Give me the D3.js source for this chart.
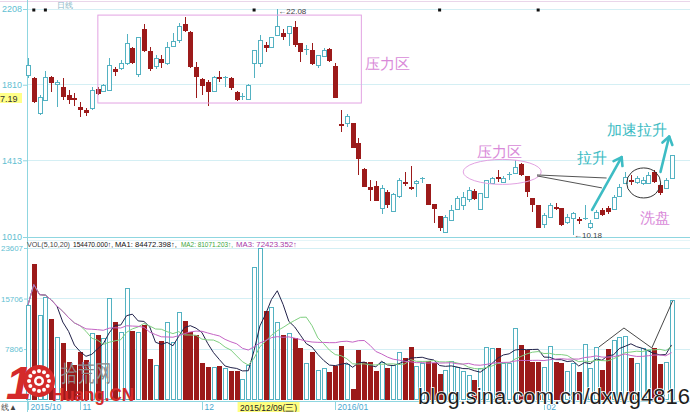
<!DOCTYPE html>
<html><head><meta charset="utf-8">
<script src="https://cdn.jsdelivr.net/npm/d3@7"></script>
<style>body{margin:0;background:#fff}svg{display:block}text{font-family:"Liberation Sans","DejaVu Sans",sans-serif}</style>
</head><body><svg id="c" width="690" height="412"></svg>
<script>
// ---------- DATA ----------
const opens = [18.61,18.45,16.62,17.30,18.51,18.14,17.98,17.56,17.40,16.93,16.77,16.88,17.88,17.77,17.82,18.93,18.98,19.24,20.03,18.66,
21.03,19.87,19.08,19.45,19.24,20.14,20.45,21.29,20.87,19.03,18.40,18.24,17.77,18.51,18.45,18.45,17.72,17.46,17.35,19.24,
19.24,20.19,20.08,20.71,20.82,20.82,21.13,20.29,19.93,19.93,19.14,19.61,19.98,19.08,16.04,16.09,16.09,15.04,13.67,12.73,
12.78,11.62,12.46,11.47,12.25,12.99,12.73,12.94,13.15,12.88,11.83,11.20,10.36,10.99,11.57,11.78,12.10,12.52,11.57,12.20,
12.94,13.25,12.99,13.36,13.46,13.94,13.30,12.15,11.78,10.78,11.15,11.68,11.62,10.89,11.10,11.04,11.04,10.62,11.10,11.52,
11.62,11.57,12.25,12.94,13.09,12.99,12.94,12.94,13.51,12.83,12.67,13.20];
const highs = [19.50,18.51,17.56,18.82,18.56,18.35,18.45,17.82,17.67,17.19,16.88,17.98,17.98,18.14,19.50,19.03,19.40,20.77,20.08,20.61,
21.29,20.08,19.66,19.66,20.35,20.82,21.34,21.66,20.92,19.30,18.45,18.35,18.56,18.82,18.56,18.51,17.77,17.67,18.14,19.93,
20.71,20.35,20.61,22.08,21.03,21.19,21.45,20.29,20.19,20.29,19.66,20.03,20.03,19.24,16.77,16.56,16.09,15.30,13.73,13.09,
13.04,12.83,12.57,12.41,13.20,13.51,13.83,13.09,13.25,12.88,11.83,11.20,11.25,11.78,12.25,12.46,12.73,12.62,12.41,13.09,
13.25,13.62,13.30,13.51,14.15,13.99,13.30,12.15,11.78,11.36,11.89,11.89,11.62,11.31,11.41,11.15,11.78,10.99,11.52,11.62,
11.73,12.31,12.88,13.51,13.36,13.30,13.25,13.51,13.62,12.94,13.20,14.41];
const lows = [18.45,17.14,16.51,17.25,17.72,16.93,17.30,17.09,16.98,16.40,16.46,16.77,17.56,17.72,17.77,18.56,18.87,19.14,19.19,18.51,
19.82,18.82,18.93,18.98,19.14,20.14,20.29,20.87,18.98,17.40,17.56,16.98,17.72,18.24,17.98,17.82,17.25,17.30,17.30,18.45,
19.03,19.82,20.08,20.66,20.45,20.14,20.08,19.30,19.66,19.14,18.98,19.56,19.30,17.40,15.62,15.88,14.78,13.36,12.73,11.99,
11.99,11.31,11.62,11.47,12.15,12.78,12.57,12.20,12.94,11.78,10.83,10.41,10.31,10.94,11.52,11.52,11.94,12.04,11.52,12.15,
12.94,12.99,12.94,13.09,13.46,13.30,12.20,11.41,10.57,10.57,11.10,11.52,10.68,10.78,10.18,10.78,10.99,10.52,11.04,11.20,
11.31,11.52,12.20,12.88,12.83,12.88,12.83,12.88,12.94,12.31,12.62,13.20];
const closes = [19.14,17.19,17.46,18.51,18.19,18.24,17.46,17.30,17.30,16.77,16.62,17.82,17.61,18.09,19.14,18.77,19.24,20.29,19.24,20.61,
19.87,18.93,19.50,19.24,20.08,20.40,21.19,20.92,19.03,18.51,18.03,17.72,18.51,18.40,18.51,17.93,17.30,17.51,18.09,19.93,
20.45,20.03,20.61,21.19,20.61,21.19,20.19,19.82,19.98,19.19,19.66,19.93,19.35,17.40,15.93,16.46,14.78,14.20,12.73,12.57,
11.99,12.67,11.78,12.36,13.09,12.94,12.62,13.04,13.20,11.78,11.57,10.57,11.15,11.52,12.15,12.20,12.57,12.10,12.41,13.09,
13.20,13.20,13.20,13.41,13.78,13.36,12.46,11.78,10.57,11.25,11.78,11.57,10.73,11.15,11.36,10.94,11.10,10.83,11.41,11.25,
11.41,12.20,12.73,13.25,13.04,13.20,13.09,13.36,12.99,12.41,13.09,14.41];
const volumes = [14710,21080,13150,16010,12520,9750,8720,5840,5320,7400,6100,10280,10020,9500,15760,12000,10530,17320,10690,10500,
11580,6260,5320,9080,12000,8970,13570,12250,10530,10020,5590,5060,5060,5170,4900,4380,4380,3130,5320,20700,
23590,13770,14450,12100,10020,10280,9500,7930,5590,7300,4540,4800,4280,5170,8350,5430,1570,7670,5840,5740,
4380,5840,4800,5320,7300,6370,8190,5170,5590,5950,5590,3860,4540,5950,5060,4380,3760,2970,4800,8190,
7930,7930,5590,5680,11160,8450,7670,5740,5840,5060,8300,5840,5680,4380,5590,4280,8560,4800,8090,4540,
7830,9230,9750,9860,6460,5590,7930,7670,7930,5430,5740,15490];
const priceTicks = [22.08, 18.10, 14.13, 10.10];
const priceTickLabels = ["2208", "1810", "1413", "1010"];
const volTicks = [23607, 15706, 7806];
const volTickLabels = ["23607", "15706", "7806"];
const dateIdx = [0, 9, 30, 53, 89];
const dateText = ["2015/10", "11", "12", "2016/01", "02"];
const markerIdx = [1, 3, 39, 71, 88];
const maPeriods = [5, 10, 20];

// ---------- SCALES ----------
const svg = d3.select("#c");
const N = closes.length;
const xs = d3.scaleLinear().domain([0, N - 1]).range([28, 671.5]);
const ys = d3.scaleLinear().domain([10.10, 22.08]).range([237, 9]);
const yv = d3.scaleLinear().domain([0, 23607]).range([399, 248]);
const UP = "#54b2c2", DN = "#9c1a1a", GRID = "#d4eff4", AX = "#8fd6e0", LBL = "#62c0d2";

// frame / grid
svg.append("line").attr("x1",0).attr("x2",690).attr("y1",1.5).attr("y2",1.5).attr("stroke","#ead6ea");
const grid = svg.append("g").attr("shape-rendering","crispEdges");
priceTicks.forEach((p,k)=>grid.append("line").attr("x1",27).attr("x2",690).attr("y1",ys(p)).attr("y2",ys(p))
  .attr("stroke", k===3 ? AX : GRID));
volTicks.forEach(v=>grid.append("line").attr("x1",27).attr("x2",690).attr("y1",yv(v)).attr("y2",yv(v)).attr("stroke",GRID));
grid.append("line").attr("x1",27).attr("x2",690).attr("y1",240).attr("y2",240).attr("stroke","#e4f5f8");
grid.append("line").attr("x1",0).attr("x2",690).attr("y1",401.5).attr("y2",401.5).attr("stroke",AX);
grid.append("line").attr("x1",27.5).attr("x2",27.5).attr("y1",0).attr("y2",412).attr("stroke",AX);

// axes
const pa = svg.append("g").attr("transform","translate(27,0)")
  .call(d3.axisLeft(ys).tickValues(priceTicks).tickFormat((d,i)=>priceTickLabels[i]).tickSize(4).tickPadding(1));
const va = svg.append("g").attr("transform","translate(27,0)")
  .call(d3.axisLeft(yv).tickValues(volTicks).tickFormat((d,i)=>volTickLabels[i]).tickSize(3).tickPadding(1));
[pa,va].forEach(g=>{
  g.select(".domain").remove();
  g.selectAll("line").attr("stroke",AX);
  g.selectAll("text").attr("fill",LBL).attr("font-size",9).attr("font-family","Liberation Sans, sans-serif");
});
va.selectAll("text").attr("font-size",8).attr("textLength",d=>d>10000?22:18).attr("lengthAdjust","spacingAndGlyphs");

// current price tag
svg.append("rect").attr("x",0).attr("y",93).attr("width",22).attr("height",10).attr("fill","#ffff88");
svg.append("text").attr("x",0).attr("y",101.5).attr("font-size",9).attr("fill","#333").text("7.19");

// top label + markers
svg.append("text").attr("x",57).attr("y",8).attr("font-size",8).attr("fill","#8ab8c6")
  .attr("font-family","Noto Sans CJK SC").text("日线");
svg.selectAll(".mk").data(markerIdx).enter().append("rect")
  .attr("x",d=>xs(d)-1.5).attr("y",8.5).attr("width",3).attr("height",3).attr("fill","#111");

// ---------- CANDLES ----------
const cg = svg.append("g").attr("shape-rendering","crispEdges");
d3.range(N).forEach(i=>{
  const up = closes[i] >= opens[i];
  const cx = Math.round(xs(i)) + 0.5;
  const top = ys(Math.max(opens[i], closes[i])), bot = ys(Math.min(opens[i], closes[i]));
  const col = up ? UP : DN;
  if (up) {
    cg.append("line").attr("x1",cx).attr("x2",cx).attr("y1",ys(highs[i])).attr("y2",top).attr("stroke",col);
    cg.append("line").attr("x1",cx).attr("x2",cx).attr("y1",bot).attr("y2",ys(lows[i])).attr("stroke",col);
    if (bot - top < 1.5) {
      cg.append("line").attr("x1",cx-2.5).attr("x2",cx+2.5).attr("y1",Math.round(top)+0.5).attr("y2",Math.round(top)+0.5).attr("stroke",col);
    } else {
      cg.append("rect").attr("x",cx-2).attr("y",Math.round(top)+0.5).attr("width",4).attr("height",Math.max(1,Math.round(bot-top)))
        .attr("fill","#fff").attr("stroke",col);
    }
  } else {
    cg.append("line").attr("x1",cx).attr("x2",cx).attr("y1",ys(highs[i])).attr("y2",ys(lows[i])).attr("stroke",col);
    cg.append("rect").attr("x",cx-2.5).attr("y",Math.round(top)).attr("width",5).attr("height",Math.max(1.5,Math.round(bot-top)))
      .attr("fill",col);
  }
});

// ---------- VOLUME ----------
const vg = svg.append("g").attr("shape-rendering","crispEdges");
d3.range(N).forEach(i=>{
  const up = closes[i] >= opens[i];
  const cx = Math.round(xs(i)) + 0.5;
  if (up) vg.append("rect").attr("x",cx-2).attr("y",Math.round(yv(volumes[i]))+0.5).attr("width",4)
      .attr("height",yv(0)-Math.round(yv(volumes[i]))).attr("fill","#fff").attr("stroke",UP);
  else vg.append("rect").attr("x",cx-2.5).attr("y",Math.round(yv(volumes[i]))).attr("width",5)
      .attr("height",yv(0)-Math.round(yv(volumes[i]))+1).attr("fill",DN);
});
const maColors = ["#22224a", "#7fcf80", "#c564c5"];
const lineGen = d3.line().x((d,i)=>xs(i)).y(d=>yv(d));
maPeriods.forEach((n,k)=>{
  const ma = volumes.map((v,i)=>d3.mean(volumes.slice(Math.max(0,i-n+1), i+1)));
  svg.append("path").datum(ma).attr("d",lineGen).attr("fill","none").attr("stroke",maColors[k]).attr("stroke-width",1);
});
// author's hand-drawn volume line
const volLine = [[98.5,8140],[102.8,11100],[107.6,7980],[111.2,15340]];
svg.append("path").datum(volLine).attr("d",d3.line().x(d=>xs(d[0])).y(d=>yv(d[1])))
  .attr("fill","none").attr("stroke","#333").attr("stroke-width",0.9);

// volume legend
const legend = [
  {t:"VOL(5,10,20)", x:27, w:43, c:"#444"},
  {t:"154470.000↑,", x:73, w:40, c:"#111"},
  {t:"MA1: 84472.398↑,", x:115, w:62, c:"#111"},
  {t:"MA2: 81071.203↑,", x:181, w:52, c:"#3aa63a"},
  {t:"MA3: 72423.352↑", x:236, w:61, c:"#a83aa8"}];
legend.forEach(l=>svg.append("text").attr("x",l.x).attr("y",247).attr("font-size",7.5)
  .attr("font-family","Liberation Mono, monospace").attr("fill",l.c)
  .attr("textLength",l.w).attr("lengthAdjust","spacingAndGlyphs").text(l.t));

// date axis
dateIdx.forEach((d,k)=>{
  const x = Math.round(xs(d)) + 0.5;
  svg.append("line").attr("x1",x).attr("x2",x).attr("y1",402).attr("y2",410).attr("stroke",AX);
  svg.append("text").attr("x",x+2).attr("y",410).attr("font-size",8.5).attr("fill","#4aa8d0").text(dateText[k]);
});
svg.append("rect").attr("x",xs(41.5)-31).attr("y",402).attr("width",62).attr("height",10).attr("fill","#ffff80");
svg.append("text").attr("x",xs(41.5)).attr("y",410.5).attr("text-anchor","middle").attr("font-size",8.5)
  .attr("fill","#222").attr("font-family","Noto Sans CJK SC").text("2015/12/09(三)");
svg.append("text").attr("x",1).attr("y",410).attr("font-size",8).attr("fill","#444")
  .attr("font-family","Noto Sans CJK SC").text("线▲");

// price extremes labels
svg.append("text").attr("x",xs(43)+1).attr("y",ys(22.08)+5).attr("font-size",8).attr("fill","#444").text("←22.08");
svg.append("text").attr("x",xs(94)+1).attr("y",ys(10.18)+3).attr("font-size",8).attr("fill","#444").text("←10.18");

// ---------- ANNOTATIONS ----------
const CJK = "Noto Sans CJK SC";
const PINK = "#e2a2e2", PINKT = "#d98ad9", TEAL = "#3dbcc4";
svg.append("rect").attr("x",xs(12.05)).attr("y",ys(21.76)).attr("width",xs(57.5)-xs(12.05))
  .attr("height",ys(17.14)-ys(21.76)).attr("fill","none").attr("stroke",PINK);
svg.append("text").attr("x",xs(58.2)).attr("y",ys(18.93)).attr("font-size",14.5).attr("fill",PINKT)
  .attr("font-family",CJK).text("压力区");
svg.append("ellipse").attr("cx",xs(81.8)).attr("cy",ys(13.52)).attr("rx",39).attr("ry",12.5)
  .attr("fill","none").attr("stroke",PINK);
svg.append("text").attr("x",xs(77.5)).attr("y",ys(14.28)).attr("font-size",14.5).attr("fill",PINKT)
  .attr("font-family",CJK).text("压力区");
[[87.8,13.36,99.8,13.20],[87.8,13.31,99.0,12.68]].forEach(s=>svg.append("line")
  .attr("x1",xs(s[0])).attr("y1",ys(s[1])).attr("x2",xs(s[2])).attr("y2",ys(s[3])).attr("stroke","#555"));
function arrow(i1,p1,i2,p2){
  const x1=xs(i1),y1=ys(p1),x2=xs(i2),y2=ys(p2);
  svg.append("line").attr("x1",x1).attr("y1",y1).attr("x2",x2).attr("y2",y2)
    .attr("stroke",TEAL).attr("stroke-width",2.6).attr("stroke-linecap","round");
  const a=Math.atan2(y2-y1,x2-x1), L=9;
  const h=[[x2-L*Math.cos(a-0.6),y2-L*Math.sin(a-0.6)],[x2,y2],[x2-L*Math.cos(a+0.6),y2-L*Math.sin(a+0.6)]];
  svg.append("path").attr("d",d3.line()(h)).attr("fill","none").attr("stroke",TEAL)
    .attr("stroke-width",2.6).attr("stroke-linecap","round").attr("stroke-linejoin","round");
}
arrow(97.3,11.52,102.4,14.30);
arrow(109.1,13.52,110.6,15.38);
svg.append("text").attr("x",xs(94.7)).attr("y",ys(14.0)).attr("font-size",14.5).attr("fill",TEAL)
  .attr("font-family",CJK).text("拉升");
svg.append("text").attr("x",xs(99.8)).attr("y",ys(15.48)).attr("font-size",14.5).attr("fill",TEAL)
  .attr("font-family",CJK).text("加速拉升");
svg.append("ellipse").attr("cx",xs(106.2)).attr("cy",ys(12.94)).attr("rx",17).attr("ry",15)
  .attr("fill","none").attr("stroke","#333");
svg.append("text").attr("x",xs(105.6)).attr("y",ys(10.86)).attr("font-size",14.5).attr("fill",PINKT)
  .attr("font-family",CJK).text("洗盘");

// ---------- WATERMARKS ----------
svg.append("text").attr("x",6).attr("y",399).attr("font-size",46).attr("font-weight","bold")
  .attr("font-style","italic").attr("fill","#d42a2a").text("1");
const gear = svg.append("g").attr("transform","translate(39,381)");
gear.append("circle").attr("r",16).attr("fill","#d42a2a");
d3.range(12).forEach(k=>{const a=k*Math.PI/6;
  gear.append("circle").attr("cx",10*Math.cos(a)).attr("cy",10*Math.sin(a)).attr("r",2).attr("fill","#fff");});
gear.append("circle").attr("r",5).attr("fill","#fff");
gear.append("circle").attr("r",2.5).attr("fill","#d42a2a");
svg.append("text").attr("transform","translate(61,381) scale(1,1.3)").attr("font-size",18).attr("fill","#8c8c8c")
  .attr("font-family",CJK).attr("textLength",51).attr("lengthAdjust","spacingAndGlyphs").text("拾荒网");
svg.append("text").attr("x",52).attr("y",401).attr("font-size",18).attr("font-weight","bold")
  .attr("fill","#d42a2a").attr("textLength",82).attr("lengthAdjust","spacingAndGlyphs").text("Huang.CN");
svg.append("text").attr("x",418).attr("y",404).attr("font-size",22).attr("fill","#1e1e1e")
  .attr("stroke","#ffffff").attr("stroke-width",1.5).attr("paint-order","stroke")
  .attr("textLength",272).attr("lengthAdjust","spacingAndGlyphs").text("blog.sina.com.cn/dxwg4816");
</script></body></html>
